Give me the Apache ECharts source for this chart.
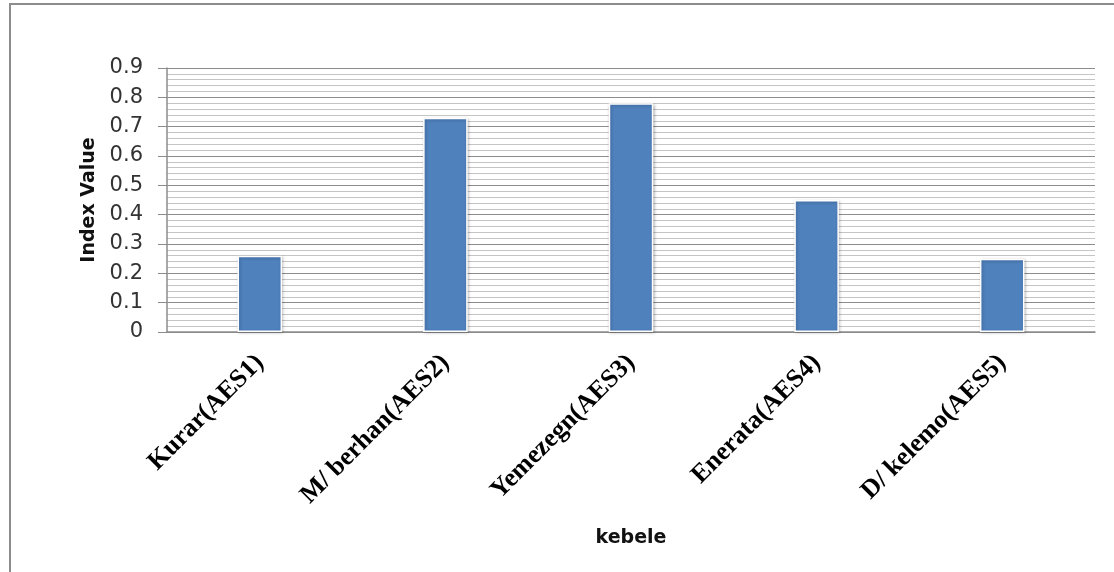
<!DOCTYPE html>
<html>
<head>
<meta charset="utf-8">
<script src="https://cdn.jsdelivr.net/npm/echarts@6/dist/echarts.min.js"></script>
<style>
  html, body { margin: 0; padding: 0; background: #fff; }
  #chart { width: 1114px; height: 572px; }
</style>
</head>
<body>
<div id="chart"></div>
<script>
// Kebele names and their index values
const categories = ['Kurar(AES1)', 'M/ berhan(AES2)', 'Yemezegn(AES3)', 'Enerata(AES4)', 'D/ kelemo(AES5)'];
const indexValues = [0.26, 0.73, 0.78, 0.45, 0.25];

// Value axis range
const yMin = 0;
const yMax = 0.9;
const yStep = 0.1;

const chart = echarts.init(document.getElementById('chart'));

chart.setOption({
  animation: false,
  backgroundColor: '#ffffff',
  grid: { left: 167, right: 19, top: 68, bottom: 240, containLabel: false },
  graphic: [
    {
      type: 'polyline',
      shape: { points: [[10, 572], [10, 4], [1114, 4]] },
      style: { stroke: '#8c8c8c', lineWidth: 2, fill: null }
    }
  ],
  xAxis: {
    type: 'category',
    data: categories,
    name: 'kebele',
    nameLocation: 'middle',
    nameGap: 197,
    nameTextStyle: { fontFamily: 'DejaVu Sans', fontWeight: 'bold', fontSize: 19, color: '#111' },
    axisLine: { show: true, lineStyle: { color: '#8c8c8c', width: 1.5 } },
    axisTick: { show: false },
    axisLabel: {
      rotate: 45,
      interval: 0,
      margin: 27,
      fontFamily: 'Liberation Serif',
      fontWeight: 'bold',
      fontSize: 26,
      color: '#000'
    }
  },
  yAxis: {
    type: 'value',
    min: yMin,
    max: yMax,
    interval: yStep,
    name: 'Index Value',
    nameLocation: 'middle',
    nameGap: 66,
    nameRotate: 90,
    nameTextStyle: { fontFamily: 'DejaVu Sans', fontWeight: 'bold', fontSize: 19, color: '#111' },
    axisLine: { show: true, lineStyle: { color: '#8c8c8c', width: 1.5 } },
    axisTick: { show: true, inside: false, length: 9, lineStyle: { color: '#8c8c8c' } },
    minorTick: { show: true, splitNumber: 5, length: 0, lineStyle: { color: 'rgba(0,0,0,0)' } },
    axisLabel: {
      margin: 24,
      fontFamily: 'DejaVu Sans',
      fontSize: 21,
      color: '#333',
      formatter: v => (v === 0 ? '0' : v.toFixed(1))
    },
    splitLine: { show: true, lineStyle: { color: '#8c8c8c', width: 1.2 } },
    minorSplitLine: { show: true, lineStyle: { color: '#c4c4c4', width: 1 } }
  },
  series: [
    {
      type: 'bar',
      data: indexValues,
      barWidth: '24%',
      itemStyle: {
        color: '#4f81bd',
        borderColor: '#ffffff',
        borderWidth: 1.5,
        shadowColor: 'rgba(0,0,0,0.25)',
        shadowBlur: 3,
        shadowOffsetX: 1,
        shadowOffsetY: 1
      }
    }
  ]
});
</script>
</body>
</html>
